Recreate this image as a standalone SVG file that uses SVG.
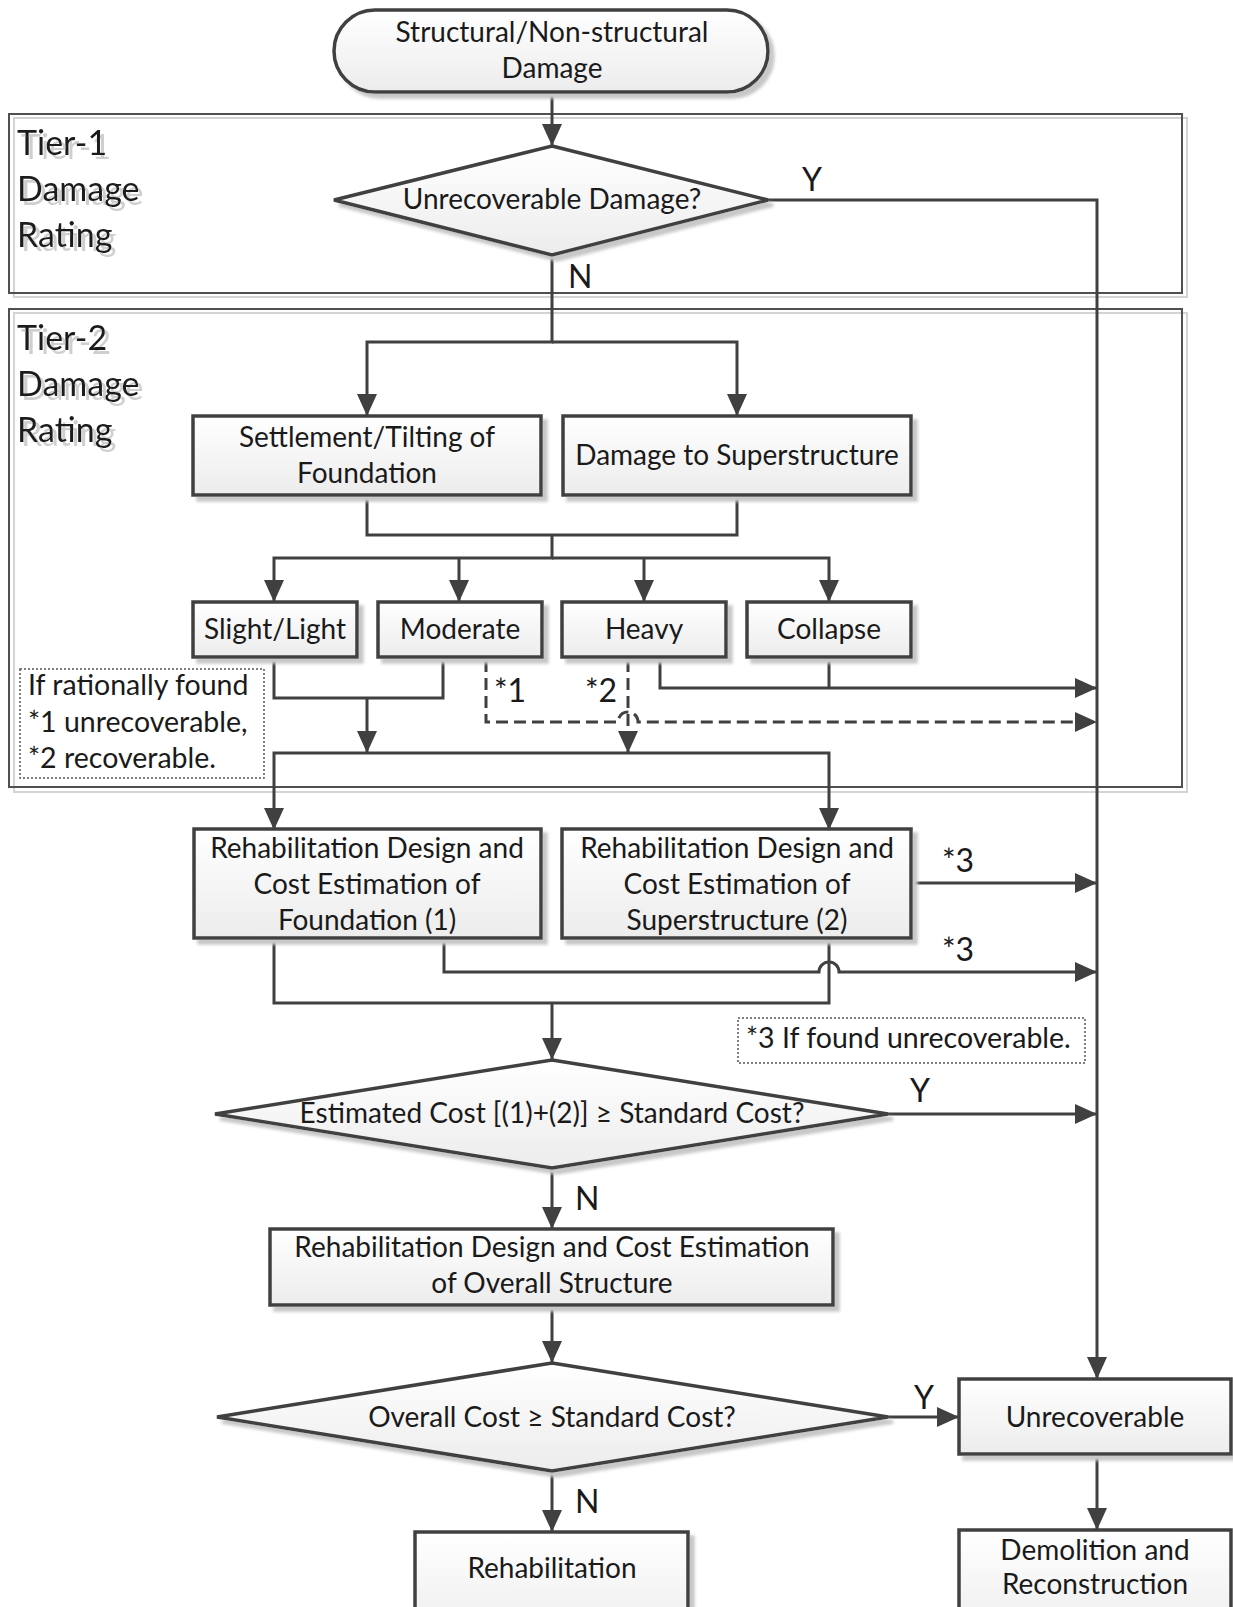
<svg xmlns="http://www.w3.org/2000/svg" width="1233" height="1607" viewBox="0 0 1233 1607">
<style>
text{font-family:Lato,"Liberation Sans",sans-serif;fill:#1a1a1a;}
.t{font-size:28px;text-anchor:middle;}
.lbl{font-size:32px;}
.note{font-size:28.5px;}
.tier{font-size:34px;filter:url(#tsh);}
.node{fill:url(#g);stroke:#404040;stroke-width:3.5;filter:url(#sh);}
.c{fill:none;stroke:#404040;stroke-width:3;}
.d{stroke-dasharray:12 6;}
.frame{fill:none;stroke:#505050;stroke-width:2;}
.frameS{fill:none;stroke:#d4d4d4;stroke-width:2;}
.nb{fill:#fff;stroke:#555;stroke-width:1.5;stroke-dasharray:2 2;}
</style>
<defs>
<linearGradient id="g" x1="0" y1="0" x2="0" y2="1"><stop offset="0" stop-color="#ffffff"/><stop offset="1" stop-color="#ececec"/></linearGradient>
<filter id="sh" x="-10%" y="-10%" width="130%" height="140%"><feDropShadow dx="5" dy="5" stdDeviation="1.5" flood-color="#c8c8c8"/></filter>
<filter id="tsh" x="-10%" y="-20%" width="130%" height="150%"><feDropShadow dx="4" dy="4" stdDeviation="0.6" flood-color="#cfcfcf"/></filter>
<marker id="a" markerUnits="userSpaceOnUse" markerWidth="24" markerHeight="20" refX="22" refY="10" orient="auto"><path d="M0,0 L22,10 L0,20 z" fill="#404040"/></marker>
</defs>

<g id="tier1">
<rect class="frameS" x="14" y="118" width="1173" height="179"/>
<rect class="frame" x="9" y="114" width="1173" height="179"/>
<text class="tier" x="17" y="155">Tier-1</text>
<text class="tier" x="17" y="201">Damage</text>
<text class="tier" x="17" y="247">Rating</text>
</g>
<g id="tier2">
<rect class="frameS" x="14" y="313" width="1173" height="479"/>
<rect class="frame" x="9" y="309" width="1173" height="478"/>
<text class="tier" x="17" y="350">Tier-2</text>
<text class="tier" x="17" y="396">Damage</text>
<text class="tier" x="17" y="442">Rating</text>
</g>

<g id="connectors">
<path class="c" d="M552,92 V146" marker-end="url(#a)"/>
<path class="c" d="M768,200 H1097 V1379" marker-end="url(#a)"/>
<path class="c" d="M552,255 V342 H367 V416" marker-end="url(#a)"/>
<path class="c" d="M552,342 H737 V416" marker-end="url(#a)"/>
<path class="c" d="M367,495 V535 H737 V495"/>
<path class="c" d="M552,535 V558 H274 V602" marker-end="url(#a)"/>
<path class="c" d="M552,558 H829 V602" marker-end="url(#a)"/>
<path class="c" d="M459,558 V602" marker-end="url(#a)"/>
<path class="c" d="M644,558 V602" marker-end="url(#a)"/>
<path class="c" d="M274,657 V698 H443 V657"/>
<path class="c" d="M367,698 V753" marker-end="url(#a)"/>
<path class="c" d="M367,753 H274 V830" marker-end="url(#a)"/>
<path class="c" d="M367,753 H829 V830" marker-end="url(#a)"/>
<path class="c" d="M660,657 V688 H1097" marker-end="url(#a)"/>
<path class="c" d="M829,657 V688"/>
<path class="c d" d="M486,660 V722 H618 A10,10 0 0 1 638,722 H1097" marker-end="url(#a)"/>
<path class="c d" d="M628,660 V753" marker-end="url(#a)"/>
<path class="c" d="M911,883 H1097" marker-end="url(#a)"/>
<path class="c" d="M444,938 V972 H819 A10,10 0 0 1 839,972 H1097" marker-end="url(#a)"/>
<path class="c" d="M274,938 V1003 H829 V938"/>
<path class="c" d="M552,1003 V1060" marker-end="url(#a)"/>
<path class="c" d="M888,1114 H1097" marker-end="url(#a)"/>
<path class="c" d="M552,1168 V1229" marker-end="url(#a)"/>
<path class="c" d="M552,1305 V1363" marker-end="url(#a)"/>
<path class="c" d="M888,1417 H959" marker-end="url(#a)"/>
<path class="c" d="M552,1471 V1532" marker-end="url(#a)"/>
<path class="c" d="M1097,1454 V1530" marker-end="url(#a)"/>
<text class="lbl" x="802" y="191">Y</text>
<text class="lbl" x="568" y="288">N</text>
<text class="lbl" x="494" y="702">*1</text>
<text class="lbl" x="585" y="702">*2</text>
<text class="lbl" x="942" y="872">*3</text>
<text class="lbl" x="942" y="961">*3</text>
<text class="lbl" x="910" y="1102">Y</text>
<text class="lbl" x="575" y="1210">N</text>
<text class="lbl" x="914" y="1409">Y</text>
<text class="lbl" x="575" y="1513">N</text>
</g>

<g id="start">
<rect class="node" x="334" y="10" width="434" height="82" rx="41"/>
<text class="t" x="552" y="42">Structural/Non-structural</text>
<text class="t" x="552" y="78">Damage</text>
</g>
<g id="q1">
<polygon class="node" points="552,146 768,200 552,255 334,200"/>
<text class="t" x="552" y="209">Unrecoverable Damage?</text>
</g>
<g id="settlement">
<rect class="node" x="193" y="416" width="348" height="79"/>
<text class="t" x="367" y="447">Settlement/Tilting of</text>
<text class="t" x="367" y="483">Foundation</text>
</g>
<g id="superstructure">
<rect class="node" x="563" y="416" width="348" height="79"/>
<text class="t" x="737" y="465">Damage to Superstructure</text>
</g>
<g id="slight">
<rect class="node" x="193" y="602" width="164" height="55"/>
<text class="t" x="275" y="639">Slight/Light</text>
</g>
<g id="moderate">
<rect class="node" x="378" y="602" width="164" height="55"/>
<text class="t" x="460" y="639">Moderate</text>
</g>
<g id="heavy">
<rect class="node" x="562" y="602" width="164" height="55"/>
<text class="t" x="644" y="639">Heavy</text>
</g>
<g id="collapse">
<rect class="node" x="747" y="602" width="164" height="55"/>
<text class="t" x="829" y="639">Collapse</text>
</g>
<g id="note1">
<rect class="nb" x="20" y="669" width="244" height="109"/>
<text class="note" x="28" y="695">If rationally found</text>
<text class="note" x="28" y="732">*1 unrecoverable,</text>
<text class="note" x="28" y="768">*2 recoverable.</text>
</g>
<g id="rehabFoundation">
<rect class="node" x="194" y="829" width="347" height="109"/>
<text class="t" x="367" y="858">Rehabilitation Design and</text>
<text class="t" x="367" y="894">Cost Estimation of</text>
<text class="t" x="367" y="930">Foundation (1)</text>
</g>
<g id="rehabSuper">
<rect class="node" x="562" y="829" width="349" height="109"/>
<text class="t" x="737" y="858">Rehabilitation Design and</text>
<text class="t" x="737" y="894">Cost Estimation of</text>
<text class="t" x="737" y="930">Superstructure (2)</text>
</g>
<g id="note3">
<rect class="nb" x="738" y="1018" width="347" height="45"/>
<text class="note" x="746" y="1048">*3 If found unrecoverable.</text>
</g>
<g id="q2">
<polygon class="node" points="552,1060 888,1114 552,1168 215,1114"/>
<text class="t" x="552" y="1123">Estimated Cost [(1)+(2)] ≥ Standard Cost?</text>
</g>
<g id="overall">
<rect class="node" x="270" y="1229" width="563" height="76"/>
<text class="t" x="552" y="1257">Rehabilitation Design and Cost Estimation</text>
<text class="t" x="552" y="1293">of Overall Structure</text>
</g>
<g id="q3">
<polygon class="node" points="552,1363 888,1417 552,1471 217,1417"/>
<text class="t" x="552" y="1427">Overall Cost ≥ Standard Cost?</text>
</g>
<g id="unrecoverable">
<rect class="node" x="959" y="1379" width="272" height="75"/>
<text class="t" x="1095" y="1427">Unrecoverable</text>
</g>
<g id="rehabilitation">
<rect class="node" x="415" y="1532" width="273" height="110"/>
<text class="t" x="552" y="1578">Rehabilitation</text>
</g>
<g id="demolition">
<rect class="node" x="959" y="1530" width="272" height="110"/>
<text class="t" x="1095" y="1560">Demolition and</text>
<text class="t" x="1095" y="1594">Reconstruction</text>
</g>
</svg>
